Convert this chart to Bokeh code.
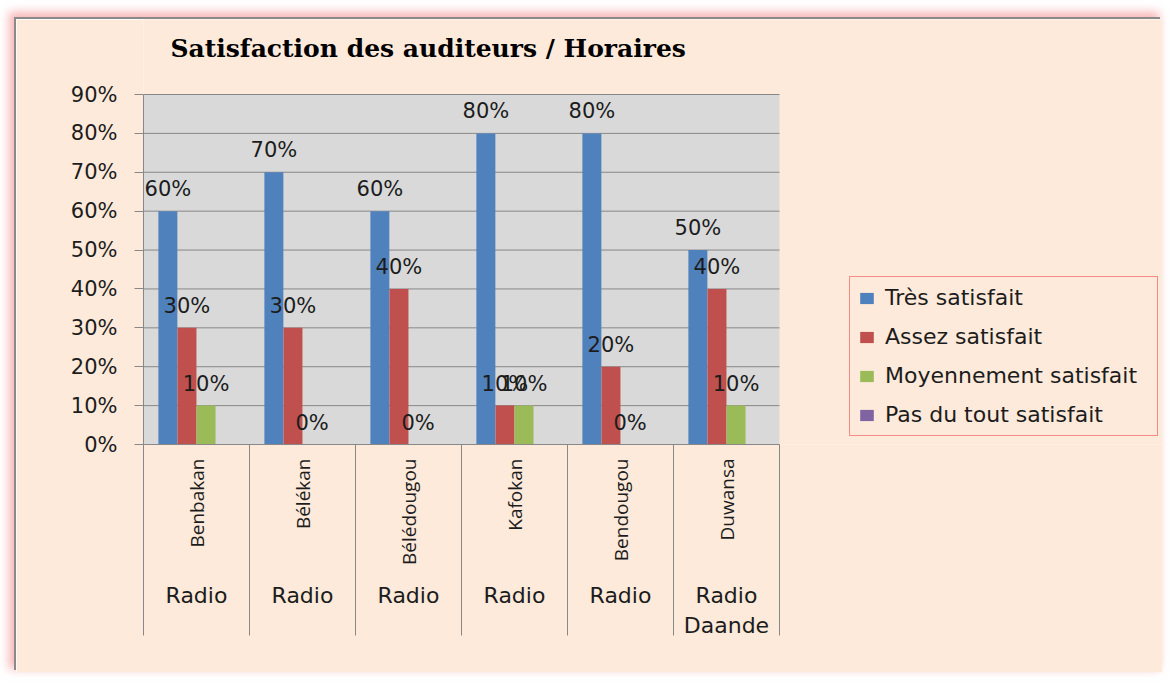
import math
from bokeh.plotting import figure
from bokeh.models import (Range1d, LinearAxis, FixedTicker, NumeralTickFormatter,
                          Legend, LegendItem, ColumnDataSource, Label)
from bokeh.transform import dodge
from bokeh.core.properties import value
from bokeh.embed import file_html
from bokeh.resources import INLINE

# ---- data ----
title_text = "Satisfaction des auditeurs / Horaires"
stations = ["Benbakan", "Bélékan", "Bélédougou", "Kafokan", "Bendougou", "Duwansa"]
groups = ["Radio", "Radio", "Radio", "Radio", "Radio", "Radio\nDaande"]
tres = [0.6, 0.7, 0.6, 0.8, 0.8, 0.5]
assez = [0.3, 0.3, 0.4, 0.1, 0.2, 0.4]
moyen = [0.1, 0.0, 0.0, 0.1, 0.0, 0.1]
pas = [None, None, None, None, None, None]
series_names = ["Très satisfait", "Assez satisfait", "Moyennement satisfait", "Pas du tout satisfait"]
y_ticks = [0.0, 0.1, 0.2, 0.3, 0.4, 0.5, 0.6, 0.7, 0.8, 0.9]

# ---- styles / layout ----
PEACH = "#FDEADA"
GRAY = "#D9D9D9"
LINE = "#888888"
TXT = "#1c1c1c"
colors = ["#4F81BD", "#C0504D", "#9BBB59", "#8064A2"]
keys = ["tres", "assez", "moyen", "pas"]
offsets = [-0.27, -0.09, 0.09, 0.27]
BAR_W = 0.179
SEP = 191            # length of the category separators below the plot (px)

W, H = 1146, 653     # canvas size
BL, BB = 127, 228    # left / bottom border (px)
CAT_PX = 106         # width of one category (px)
PLOT_H = 350         # height of the 0..90% area (px)

centers = list(range(len(stations)))
bounds = [c - 0.5 for c in centers] + [centers[-1] + 0.5]

frame_w = W - BL
frame_h = H - BB
x_end = bounds[0] + frame_w / CAT_PX
y_end = y_ticks[-1] * frame_h / PLOT_H
px_y = y_ticks[-1] / PLOT_H

def pct(v):
    return "" if v is None else f"{round(v * 100)}%"

src = ColumnDataSource(dict(
    x=centers,
    tres=tres, assez=assez, moyen=moyen, pas=pas,
    tres_lbl=[pct(v) for v in tres],
    assez_lbl=[pct(v) for v in assez],
    moyen_lbl=[pct(v) for v in moyen],
))

p = figure(width=W, height=H, output_backend="svg", toolbar_location=None,
           x_range=Range1d(bounds[0], x_end), y_range=Range1d(0, y_end),
           x_axis_type=None, y_axis_type=None, title=None,
           min_border_left=BL, min_border_right=0,
           min_border_top=0, min_border_bottom=BB,
           background_fill_color=PEACH, border_fill_color=PEACH,
           outline_line_color=None)

p.margin = (19, 0, 0, 16)
p.styles = {"box-shadow": "-2px -2px 0px 0px #8a8a8a, -5px -5px 9px 2px rgba(240,120,120,0.55)"}

# grey plot area and horizontal grid lines
p.quad(left=bounds[0], right=bounds[-1], bottom=y_ticks[0], top=y_ticks[-1],
       fill_color=GRAY, line_color=None)
p.segment(x0=[bounds[0]] * len(y_ticks), x1=[bounds[-1]] * len(y_ticks),
          y0=y_ticks, y1=y_ticks, line_color=LINE, line_width=1)

# y axis
yaxis = LinearAxis(ticker=FixedTicker(ticks=y_ticks, minor_ticks=[]),
                   formatter=NumeralTickFormatter(format="0%"),
                   bounds=(y_ticks[0], y_ticks[-1]),
                   axis_line_color=LINE, major_tick_line_color=LINE,
                   major_tick_out=9, major_tick_in=0,
                   minor_tick_line_color=None,
                   major_label_standoff=17,
                   major_label_text_font="DejaVu Sans",
                   major_label_text_font_size="21px",
                   major_label_text_color=TXT)
p.add_layout(yaxis, "left")

# x axis: station names (vertical) and category separators (long minor ticks)
xa = LinearAxis(ticker=FixedTicker(ticks=centers, minor_ticks=bounds),
                bounds=(bounds[0], bounds[-1]),
                major_label_overrides={c: s for c, s in zip(centers, stations)},
                major_label_orientation=math.pi / 2,
                axis_line_color=LINE, major_tick_line_color=None,
                major_tick_out=0, major_tick_in=0,
                minor_tick_line_color=LINE, minor_tick_out=SEP, minor_tick_in=0,
                major_label_standoff=14 - SEP,
                major_label_text_font="Open Sans",
                major_label_text_font_size="19px",
                major_label_text_color=TXT)
p.add_layout(xa, "below")

xb = LinearAxis(ticker=FixedTicker(ticks=centers, minor_ticks=[]),
                major_label_overrides={c: g for c, g in zip(centers, groups)},
                axis_line_color=None, major_tick_line_color=None,
                minor_tick_line_color=None,
                major_tick_out=0, major_tick_in=0,
                major_label_standoff=14,
                major_label_text_font="DejaVu Sans",
                major_label_text_font_size="22px",
                major_label_text_color=TXT)
p.add_layout(xb, "below")

# bars
renderers = []
for k, off, c in zip(keys, offsets, colors):
    r = p.vbar(x=dodge("x", off), top=k, bottom=0, width=BAR_W, source=src,
               fill_color=c, line_color=None)
    renderers.append(r)

# data labels
for k, off in zip(keys[:3], offsets[:3]):
    p.text(x=dodge("x", off), y=k, text=k + "_lbl", source=src,
           text_align="center", text_baseline="alphabetic", y_offset=-22,
           text_font=value("DejaVu Sans"), text_font_size="21px", text_color=TXT)

# title
p.add_layout(Label(x=bounds[0] + 27 / CAT_PX, y=y_ticks[-1] + 46 * px_y,
                   text=title_text, text_align="left", text_baseline="middle",
                   text_font="DejaVu Serif", text_font_style="bold",
                   text_font_size="25px", text_color="#000000"))

# legend
legend = Legend(items=[LegendItem(label=n, renderers=[r]) for n, r in zip(series_names, renderers)],
                location=(706, 8), orientation="vertical", margin=0,
                border_line_color="#E82E2E", border_line_width=1.5,
                background_fill_color=PEACH, background_fill_alpha=1.0,
                label_text_font="DejaVu Sans", label_text_font_size="22px",
                label_text_color=TXT,
                glyph_width=17, glyph_height=14, label_standoff=10,
                label_width=264, label_height=24, spacing=14, padding=8)
p.add_layout(legend)

open("out.html", "w").write(file_html(p, INLINE))
